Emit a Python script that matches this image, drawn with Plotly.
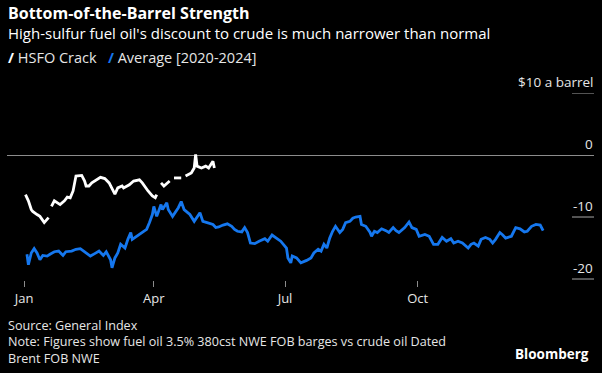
import plotly.graph_objects as go

# ---------------- data ----------------
hsfo_dates = ["2025-01-02","2025-01-04","2025-01-06","2025-01-07","2025-01-10","2025-01-12","2025-01-15","2025-01-18",
              "2025-01-19",
              "2025-01-20","2025-01-22","2025-01-26","2025-01-29","2025-01-31","2025-02-02","2025-02-04","2025-02-06",
              "2025-02-10","2025-02-12","2025-02-13","2025-02-15","2025-02-17","2025-02-20","2025-02-23","2025-02-26",
              "2025-03-01","2025-03-05","2025-03-07","2025-03-10","2025-03-11","2025-03-15","2025-03-18","2025-03-22",
              "2025-03-24","2025-03-28","2025-03-31","2025-04-02","2025-04-03",
              "2025-04-04",
              "2025-04-06","2025-04-08","2025-04-12",
              "2025-04-13",
              "2025-04-15","2025-04-20",
              "2025-04-21",
              "2025-04-23","2025-04-27","2025-04-29","2025-04-30","2025-05-01","2025-05-04","2025-05-07","2025-05-09",
              "2025-05-12","2025-05-13"]
hsfo_values = [-6.4,-7.4,-8.8,-9.1,-9.6,-9.9,-10.9,-10.1,
               None,
               -8.3,-7.4,-8.0,-7.4,-6.8,-6.9,-5.8,-3.4,
               -3.3,-4.2,-5.0,-5.0,-4.5,-4.0,-3.6,-3.8,
               -4.5,-6.3,-5.3,-5.0,-5.3,-4.8,-4.2,-4.0,
               -4.5,-5.8,-6.6,-6.9,-6.4,
               None,
               -4.5,-5.0,-4.2,
               None,
               -3.7,-3.7,
               None,
               -3.4,-2.9,-2.1,0.1,-1.8,-2.1,-1.8,-2.1,
               -1.0,-2.1]

avg_dates = ["2025-01-03","2025-01-04","2025-01-06","2025-01-08","2025-01-10","2025-01-12","2025-01-14","2025-01-17",
             "2025-01-19","2025-01-22","2025-01-25","2025-01-28","2025-01-30","2025-02-03","2025-02-06","2025-02-09",
             "2025-02-13","2025-02-16","2025-02-19","2025-02-22","2025-02-25","2025-02-27","2025-03-02","2025-03-03",
             "2025-03-05","2025-03-07","2025-03-09","2025-03-12","2025-03-14","2025-03-16","2025-03-17","2025-03-20",
             "2025-03-23","2025-03-27","2025-03-29","2025-03-31","2025-04-01","2025-04-03","2025-04-06","2025-04-07",
             "2025-04-10","2025-04-11","2025-04-14","2025-04-18","2025-04-20","2025-04-22","2025-04-26","2025-04-29",
             "2025-05-03","2025-05-05","2025-05-08","2025-05-12","2025-05-14","2025-05-16","2025-05-19","2025-05-22",
             "2025-05-25","2025-05-27","2025-05-29","2025-06-01","2025-06-03","2025-06-05","2025-06-07","2025-06-10",
             "2025-06-13","2025-06-17","2025-06-19","2025-06-22","2025-06-25","2025-06-28","2025-07-02","2025-07-03",
             "2025-07-05","2025-07-06","2025-07-09","2025-07-12","2025-07-16","2025-07-19","2025-07-21","2025-07-24",
             "2025-07-26","2025-07-28","2025-07-30","2025-08-01","2025-08-03","2025-08-05","2025-08-08","2025-08-10",
             "2025-08-12","2025-08-15","2025-08-17","2025-08-19","2025-08-22","2025-08-23","2025-08-26","2025-08-29",
             "2025-08-30","2025-09-01","2025-09-03","2025-09-06","2025-09-09","2025-09-11","2025-09-14","2025-09-16",
             "2025-09-18","2025-09-22","2025-09-25","2025-09-27","2025-09-30","2025-10-02","2025-10-06","2025-10-09",
             "2025-10-12","2025-10-15","2025-10-18","2025-10-21","2025-10-24","2025-10-26","2025-10-29","2025-11-01",
             "2025-11-05","2025-11-07","2025-11-09","2025-11-12","2025-11-14","2025-11-17","2025-11-20","2025-11-22",
             "2025-11-24","2025-11-27","2025-11-29","2025-12-01","2025-12-05","2025-12-08","2025-12-11","2025-12-14",
             "2025-12-16","2025-12-19","2025-12-22","2025-12-25","2025-12-27"]
avg_values = [-16.0,-17.7,-15.8,-15.1,-15.8,-16.9,-16.2,-16.3,
              -16.0,-15.6,-15.5,-16.2,-15.6,-15.5,-15.2,-15.1,
              -15.8,-16.3,-15.9,-15.5,-16.2,-15.6,-16.9,-18.2,
              -16.6,-15.8,-14.4,-15.0,-13.6,-12.5,-13.6,-13.1,
              -12.7,-12.0,-10.9,-9.6,-8.3,-9.9,-8.0,-8.8,
              -7.7,-8.8,-9.9,-8.5,-7.5,-8.8,-9.6,-10.7,
              -9.3,-10.7,-10.9,-11.2,-11.7,-11.6,-11.3,-11.1,
              -11.5,-12.0,-12.3,-12.4,-11.7,-12.5,-14.2,-14.3,
              -13.9,-13.5,-13.9,-12.9,-13.4,-13.9,-15.0,-16.6,
              -17.4,-16.3,-16.6,-17.4,-17.0,-16.6,-15.8,-15.2,
              -15.5,-14.4,-15.0,-13.4,-12.3,-11.5,-12.5,-12.0,
              -10.9,-10.7,-10.2,-10.0,-9.9,-11.2,-11.5,-12.5,
              -13.1,-12.3,-12.5,-11.9,-12.2,-12.5,-11.7,-12.2,
              -12.5,-11.7,-10.8,-11.7,-12.0,-13.1,-12.8,-13.1,
              -14.4,-14.4,-13.3,-13.9,-13.5,-14.2,-13.9,-14.2,
              -15.0,-14.4,-14.2,-14.7,-13.6,-13.3,-13.6,-14.2,
              -13.6,-12.5,-12.9,-13.4,-13.1,-11.7,-11.9,-12.4,
              -12.3,-11.5,-11.2,-11.3,-12.2]

x_tick_vals = ["2025-01-01", "2025-04-01", "2025-07-01", "2025-10-01"]
x_tick_text = ["Jan", "Apr", "Jul", "Oct"]
y_tick_vals = [10, 0, -10, -20]
y_tick_text = ["$10 a barrel", "0", "-10", "-20"]

# ---------------- style ----------------
W, H = 602, 373
ML, MR, MT, MB = 7, 8, 93, 93
PLOT_H = H - MT - MB
FONT = "Open Sans"
WHITE = "#ffffff"
BLUE = "#1577ee"
GRAY = "#8c8c8c"
TXT = "#e6e6e6"


def py(ypx):
    """window pixel row -> paper y"""
    return (H - MB - ypx) / PLOT_H


fig = go.Figure()
fig.add_trace(go.Scatter(x=avg_dates, y=avg_values, mode="lines", name="Average [2020-2024]",
                         line=dict(color=BLUE, width=2.8), connectgaps=False))
fig.add_trace(go.Scatter(x=hsfo_dates, y=hsfo_values, mode="lines", name="HSFO Crack",
                         line=dict(color=WHITE, width=2.8), connectgaps=False))

fig.update_layout(
    width=W, height=H,
    margin=dict(l=ML, r=MR, t=MT, b=MB, pad=0),
    paper_bgcolor="#000000", plot_bgcolor="#000000",
    showlegend=False,
    font=dict(family=FONT, color=TXT, size=13),
    xaxis=dict(range=["2024-12-20 04:00", "2026-01-31 07:00"], tickvals=x_tick_vals, ticktext=x_tick_text,
               ticks="outside", ticklen=6, tickcolor=GRAY, tickwidth=1,
               showgrid=False, zeroline=False, showline=False,
               tickfont=dict(family=FONT, size=13, color=TXT)),
    yaxis=dict(range=[-20.16, 10], showticklabels=False, ticks="", showgrid=False,
               zeroline=True, zerolinecolor=GRAY, zerolinewidth=1.2, showline=False),
)

tick_frac = 22 / (W - ML - MR)
for v, t in zip(y_tick_vals, y_tick_text):
    if v != 0:
        fig.add_shape(type="line", xref="paper", yref="y", x0=1 - tick_frac, x1=1, y0=v, y1=v,
                      line=dict(color=GRAY, width=1.2))
    fig.add_annotation(xref="paper", yref="y", x=1, y=v, text=t, showarrow=False,
                       xanchor="right", yanchor="bottom", yshift=1, borderpad=0,
                       font=dict(family=FONT, size=13.5, color=TXT))

fig.add_annotation(xref="paper", yref="paper", x=0, y=py(13), text="<b>Bottom-of-the-Barrel Strength</b>",
                   showarrow=False, xanchor="left", yanchor="middle", borderpad=0,
                   font=dict(family=FONT, size=16, color=WHITE))
fig.add_annotation(xref="paper", yref="paper", x=0, y=py(33),
                   text="High-sulfur fuel oil's discount to crude is much narrower than normal",
                   showarrow=False, xanchor="left", yanchor="middle", borderpad=0,
                   font=dict(family=FONT, size=15, color=WHITE))
fig.add_annotation(xref="paper", yref="paper", x=0, y=py(58),
                   text=f"<b><span style='color:{WHITE}'>/</span></b> HSFO Crack   "
                        f"<b><span style='color:{BLUE}'>/</span></b> Average [2020-2024]",
                   showarrow=False, xanchor="left", yanchor="middle", borderpad=0,
                   font=dict(family=FONT, size=14.5, color=TXT))

footer = ["Source: General Index",
          "Note: Figures show fuel oil 3.5% 380cst NWE FOB barges vs crude oil Dated",
          "Brent FOB NWE"]
fig.add_annotation(xref="paper", yref="paper", x=0, y=py(342), text="<br>".join(footer), showarrow=False,
                   xanchor="left", yanchor="middle", align="left", borderpad=0,
                   font=dict(family=FONT, size=12.6, color=TXT))
fig.add_annotation(xref="paper", yref="paper", x=1, y=py(354), text="<b>Bloomberg</b>", showarrow=False,
                   xanchor="right", yanchor="middle", xshift=-4, borderpad=0,
                   font=dict(family=FONT, size=13.5, color=WHITE))

# the default page body has an 8px margin; remove it so the 602x373 figure fills the window
fig.write_html("out.html", config={"displayModeBar": False},
               post_script="document.body.style.margin='0';")
